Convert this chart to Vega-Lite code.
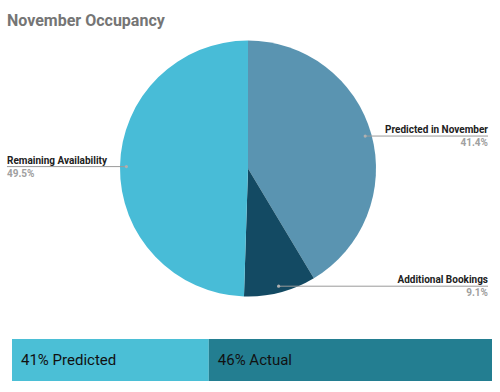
{
  "$schema": "https://vega.github.io/schema/vega-lite/v6.json",
  "padding": {"left": 0, "right": 0, "top": 13, "bottom": 0},
  "background": "white",
  "title": {"text": "November Occupancy", "anchor": "start", "dx": 7, "fontSize": 16, "font": "Roboto", "fontWeight": "bold", "color": "#757575", "offset": 6},
  "config": {"view": {"stroke": null}, "font": "Roboto"},
  "spacing": 15,
  "resolve": {"scale": {"color": "independent", "x": "independent", "y": "independent"}},
  "vconcat": [
    {
      "width": 500,
      "height": 289,
      "data": {"values": [
        {"category": "Predicted in November", "value": 41.4},
        {"category": "Additional Bookings", "value": 9.1},
        {"category": "Remaining Availability", "value": 49.5}
      ]},
      "transform": [
        {"window": [{"op": "sum", "field": "value", "as": "cum"}], "frame": [null, 0]},
        {"calculate": "datum.cum - datum.value", "as": "start"},
        {"calculate": "(datum.cum - datum.value / 2) / 100 * 2 * PI", "as": "mid"},
        {"calculate": "0.95 * sin(datum.mid)", "as": "px"},
        {"calculate": "0.95 * cos(datum.mid)", "as": "py"},
        {"calculate": "datum.px >= 0 ? 1.875 : -1.883", "as": "ex"},
        {"calculate": "format(datum.value, '.1f') + '%'", "as": "pct"}
      ],
      "layer": [
        {
          "mark": {"type": "arc", "outerRadius": 128},
          "encoding": {
            "x": {"datum": 0, "type": "quantitative", "scale": {"domain": [-1.9375, 1.96875], "nice": false, "zero": false}, "axis": null},
            "y": {"datum": 0, "type": "quantitative", "scale": {"domain": [-1.2148, 1.043], "nice": false, "zero": false}, "axis": null},
            "theta": {"field": "start", "type": "quantitative", "stack": null, "scale": {"domain": [0, 100], "range": [0, 6.283185307]}},
            "theta2": {"field": "cum"},
            "color": {"field": "category", "type": "nominal", "scale": {"domain": ["Predicted in November", "Additional Bookings", "Remaining Availability"], "range": ["#5a94b1", "#134a63", "#48bcd7"]}, "legend": null}
          }
        },
        {
          "mark": {"type": "rule", "color": "#9a9a9a", "strokeWidth": 1},
          "encoding": {
            "x": {"field": "px", "type": "quantitative", "scale": {"domain": [-1.9375, 1.96875], "nice": false, "zero": false}, "axis": null},
            "x2": {"field": "ex"},
            "y": {"field": "py", "type": "quantitative", "scale": {"domain": [-1.2148, 1.043], "nice": false, "zero": false}, "axis": null}
          }
        },
        {
          "mark": {"type": "circle", "size": 10, "color": "#b0b0b0", "opacity": 1},
          "encoding": {
            "x": {"field": "px", "type": "quantitative", "scale": {"domain": [-1.9375, 1.96875], "nice": false, "zero": false}, "axis": null},
            "y": {"field": "py", "type": "quantitative", "scale": {"domain": [-1.2148, 1.043], "nice": false, "zero": false}, "axis": null}
          }
        },
        {
          "mark": {"type": "text", "fontSize": 10, "fontWeight": "bold", "color": "#212121", "baseline": "alphabetic", "dy": -3, "align": {"expr": "datum.px >= 0 ? 'right' : 'left'"}},
          "encoding": {
            "x": {"field": "ex", "type": "quantitative", "scale": {"domain": [-1.9375, 1.96875], "nice": false, "zero": false}, "axis": null},
            "y": {"field": "py", "type": "quantitative", "scale": {"domain": [-1.2148, 1.043], "nice": false, "zero": false}, "axis": null},
            "text": {"field": "category"}
          }
        },
        {
          "mark": {"type": "text", "fontSize": 10, "fontWeight": "bold", "color": "#a0a0a0", "baseline": "alphabetic", "dy": 10, "align": {"expr": "datum.px >= 0 ? 'right' : 'left'"}},
          "encoding": {
            "x": {"field": "ex", "type": "quantitative", "scale": {"domain": [-1.9375, 1.96875], "nice": false, "zero": false}, "axis": null},
            "y": {"field": "py", "type": "quantitative", "scale": {"domain": [-1.2148, 1.043], "nice": false, "zero": false}, "axis": null},
            "text": {"field": "pct"}
          }
        }
      ]
    },
    {
      "width": 492,
      "height": 42,
      "data": {"values": [
        {"segment": "Predicted", "label": "41% Predicted", "from": 0, "to": 41},
        {"segment": "Actual", "label": "46% Actual", "from": 41, "to": 100}
      ]},
      "layer": [
        {
          "mark": {"type": "rect"},
          "encoding": {
            "x": {"field": "from", "type": "quantitative", "scale": {"domain": [-2.5, 100], "nice": false, "zero": false}, "axis": null},
            "x2": {"field": "to"},
            "color": {"field": "segment", "type": "nominal", "scale": {"domain": ["Predicted", "Actual"], "range": ["#4bbfd6", "#237e91"]}, "legend": null}
          }
        },
        {
          "mark": {"type": "text", "align": "left", "baseline": "middle", "dx": 9, "fontSize": 15, "color": "#111111"},
          "encoding": {
            "x": {"field": "from", "type": "quantitative", "scale": {"domain": [-2.5, 100], "nice": false, "zero": false}, "axis": null},
            "text": {"field": "label"}
          }
        }
      ]
    }
  ]
}
